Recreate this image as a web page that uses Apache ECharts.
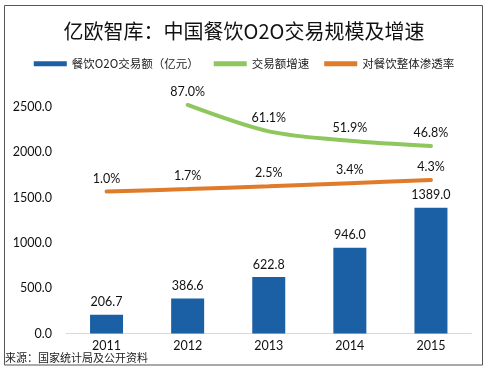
<!DOCTYPE html>
<html><head><meta charset="utf-8">
<script src="https://cdn.jsdelivr.net/npm/echarts@6/dist/echarts.min.js"></script>
<style>html,body{margin:0;padding:0;background:#fff}#c{width:488px;height:370px}</style>
</head><body><div id="c"></div>
<script>
const years = ['2011','2012','2013','2014','2015'];
const volume = [206.7, 386.6, 622.8, 946.0, 1389.0];
const growth = [null, 87.0, 61.1, 51.9, 46.8];
const penetration = [1.0, 1.7, 2.5, 3.4, 4.3];
const yTicks = [0, 500, 1000, 1500, 2000, 2500];
const names = ['餐饮O2O交易额（亿元）', '交易额增速', '对餐饮整体渗透率'];
const colors = ['#1B5FA4', '#8DC75E', '#E07B2A'];

const font = '"Noto Sans CJK SC",sans-serif';
const numFont = 'Lato,"Noto Sans",sans-serif';
const chart = echarts.init(document.getElementById('c'), null, {renderer: 'canvas'});
chart.setOption({
  animation: false,
  textStyle: {fontFamily: font},
  title: {
    text: '亿欧智库：中国餐饮O2O交易规模及增速',
    left: 'center', top: 16,
    textStyle: {fontSize: 20, fontWeight: 'normal', color: '#111', fontFamily: font}
  },
  legend: {
    top: 53, left: 'center', itemGap: 15, itemWidth: 33, itemHeight: 5,
    textStyle: {fontSize: 11.5, color: '#222', fontFamily: font},
    data: names.map((n, i) => ({name: n, icon: 'rect', itemStyle: {color: colors[i], opacity: 1}}))
  },
  grid: {left: 66, right: 16.5, top: 107, bottom: 36.5},
  xAxis: {
    type: 'category', data: years,
    axisLine: {lineStyle: {color: '#d9d9d9', width: 1}},
    axisTick: {show: false},
    axisLabel: {color: '#111', fontSize: 12.5, margin: 6, fontFamily: numFont}
  },
  yAxis: [
    {
      type: 'value', min: yTicks[0], max: yTicks[yTicks.length - 1], interval: 500,
      splitLine: {show: false}, axisLine: {show: false}, axisTick: {show: false},
      axisLabel: {color: '#111', fontSize: 12.5, margin: 14, fontFamily: numFont, formatter: v => v.toFixed(1)}
    },
    {type: 'value', min: -137, max: 85, show: false, splitLine: {show: false}},
    {type: 'value', min: -39.8, max: 25.3, show: false, splitLine: {show: false}}
  ],
  series: [
    {
      name: names[0], type: 'bar', data: volume, barWidth: 33,
      itemStyle: {color: colors[0]},
      label: {show: true, position: 'top', distance: 6, color: '#111', fontSize: 12.5, fontFamily: numFont,
        formatter: p => p.value.toFixed(1)}
    },
    {
      name: names[1], type: 'line', yAxisIndex: 1, data: growth, smooth: 0.3, clip: false,
      symbol: 'circle', symbolSize: 1, showSymbol: true,
      itemStyle: {color: 'rgba(0,0,0,0)', borderWidth: 0},
      lineStyle: {width: 4, color: colors[1], cap: 'round'},
      label: {show: true, position: 'top', distance: 6, color: '#111', fontSize: 12.5, fontFamily: numFont,
        formatter: p => p.value == null ? '' : p.value.toFixed(1) + '%'},
      labelLayout: {hideOverlap: false}
    },
    {
      name: names[2], type: 'line', yAxisIndex: 2, data: penetration, smooth: 0.3, clip: false,
      symbol: 'circle', symbolSize: 1, showSymbol: true,
      itemStyle: {color: 'rgba(0,0,0,0)', borderWidth: 0},
      lineStyle: {width: 4, color: colors[2], cap: 'round'},
      label: {show: true, position: 'top', distance: 6, color: '#111', fontSize: 12.5, fontFamily: numFont,
        formatter: p => p.value.toFixed(1) + '%'},
      labelLayout: {hideOverlap: false}
    }
  ],
  graphic: [
    {type: 'rect', shape: {x: 4.5, y: 5.5, width: 478, height: 359.5},
      style: {fill: null, stroke: '#555', lineWidth: 1}, silent: true},
    {type: 'text', left: 5, top: 352,
      style: {text: '来源：国家统计局及公开资料', fill: '#222', fontSize: 11, fontFamily: font}}
  ]
});
</script></body></html>
